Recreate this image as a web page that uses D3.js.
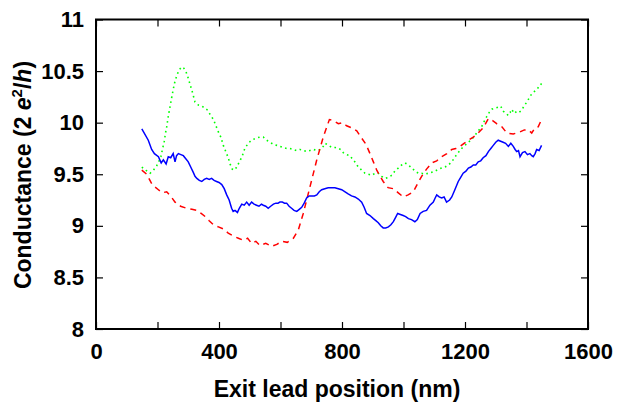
<!DOCTYPE html>
<html>
<head>
<meta charset="utf-8">
<script src="https://cdnjs.cloudflare.com/ajax/libs/d3/7.8.5/d3.min.js"></script>
<style>
    body { margin: 0; background: #fff; }
    svg { display: block; font-family: "Liberation Sans", Arial, Helvetica, sans-serif; font-weight: bold; }
</style>
</head>
<body>
<svg id="chart" width="619" height="405"></svg>
<script>
// exit lead position (nm) and conductance (2e^2/h)
var blueX = [149, 170, 181, 190, 203, 212, 219, 228, 235, 243, 251, 257, 262, 268, 276, 284, 292, 300, 308, 316, 322, 328, 336, 344, 352, 360, 368, 376, 384, 392, 400, 409, 417, 425, 433, 441, 446, 452, 460, 466, 474, 482, 490, 498, 506, 514, 522, 530, 538, 544, 552, 560, 568, 577, 585, 592, 598, 606, 613, 620, 628, 636, 644, 653, 661, 669, 677, 685, 693, 702, 710, 718, 726, 734, 744, 755, 766, 777, 788, 799, 810, 820, 831, 842, 853, 864, 872, 880, 891, 902, 910, 918, 926, 934, 942, 951, 959, 967, 974, 981, 990, 999, 1007, 1016, 1026, 1037, 1045, 1054, 1064, 1075, 1086, 1097, 1103, 1108, 1116, 1124, 1132, 1140, 1150, 1157, 1167, 1178, 1186, 1194, 1203, 1211, 1219, 1227, 1235, 1243, 1251, 1259, 1268, 1276, 1284, 1292, 1300, 1308, 1316, 1324, 1332, 1341, 1349, 1357, 1363, 1368, 1374, 1379, 1387, 1395, 1403, 1411, 1417, 1422, 1428, 1433, 1441, 1449];
var blueY = [9.94, 9.83, 9.74, 9.70, 9.67, 9.61, 9.64, 9.60, 9.67, 9.66, 9.70, 9.62, 9.68, 9.70, 9.69, 9.68, 9.65, 9.62, 9.57, 9.52, 9.48, 9.46, 9.44, 9.43, 9.45, 9.46, 9.45, 9.46, 9.44, 9.43, 9.42, 9.40, 9.36, 9.30, 9.25, 9.17, 9.14, 9.15, 9.13, 9.17, 9.21, 9.20, 9.23, 9.20, 9.23, 9.21, 9.20, 9.19, 9.21, 9.20, 9.19, 9.17, 9.19, 9.21, 9.22, 9.22, 9.23, 9.23, 9.22, 9.22, 9.19, 9.17, 9.15, 9.14, 9.16, 9.18, 9.22, 9.27, 9.29, 9.29, 9.29, 9.30, 9.33, 9.35, 9.36, 9.37, 9.37, 9.37, 9.36, 9.35, 9.33, 9.31, 9.29, 9.28, 9.26, 9.23, 9.18, 9.12, 9.10, 9.07, 9.05, 9.03, 9.00, 8.98, 8.98, 8.99, 9.01, 9.04, 9.08, 9.12, 9.11, 9.10, 9.09, 9.07, 9.06, 9.04, 9.06, 9.12, 9.14, 9.15, 9.20, 9.23, 9.27, 9.30, 9.28, 9.27, 9.28, 9.23, 9.25, 9.28, 9.35, 9.43, 9.47, 9.51, 9.53, 9.56, 9.57, 9.59, 9.59, 9.62, 9.63, 9.66, 9.68, 9.72, 9.75, 9.78, 9.81, 9.83, 9.82, 9.81, 9.80, 9.77, 9.80, 9.77, 9.74, 9.72, 9.73, 9.67, 9.71, 9.72, 9.69, 9.70, 9.68, 9.67, 9.70, 9.74, 9.73, 9.78];

var redX = [149, 165, 181, 190, 203, 215, 230, 245, 257, 275, 295, 312, 328, 342, 355, 368, 382, 398, 414, 430, 447, 463, 479, 493, 506, 520, 533, 552, 571, 588, 604, 622, 642, 658, 674, 696, 718, 739, 759, 773, 788, 801, 815, 831, 848, 864, 878, 891, 902, 913, 924, 934, 950, 967, 983, 999, 1015, 1032, 1046, 1059, 1075, 1092, 1108, 1124, 1141, 1157, 1170, 1184, 1197, 1211, 1227, 1243, 1259, 1276, 1290, 1303, 1320, 1336, 1357, 1379, 1393, 1406, 1417, 1428, 1438, 1449];
var redY = [9.54, 9.50, 9.41, 9.38, 9.35, 9.32, 9.33, 9.28, 9.23, 9.19, 9.17, 9.16, 9.15, 9.12, 9.09, 9.05, 9.01, 8.99, 8.97, 8.93, 8.90, 8.88, 8.86, 8.88, 8.83, 8.85, 8.81, 8.83, 8.80, 8.82, 8.85, 8.84, 8.88, 8.96, 9.12, 9.38, 9.64, 9.86, 10.03, 10.02, 9.99, 10.00, 9.97, 9.95, 9.92, 9.85, 9.79, 9.70, 9.62, 9.54, 9.48, 9.43, 9.37, 9.36, 9.32, 9.28, 9.30, 9.33, 9.41, 9.48, 9.55, 9.61, 9.63, 9.67, 9.70, 9.74, 9.75, 9.77, 9.80, 9.83, 9.86, 9.90, 9.95, 10.04, 10.02, 9.99, 9.96, 9.90, 9.89, 9.91, 9.93, 9.93, 9.90, 9.95, 9.96, 10.03];

var greenX = [149, 162, 176, 187, 197, 205, 211, 216, 222, 226, 230, 235, 241, 246, 251, 256, 262, 270, 279, 285, 292, 299, 306, 314, 322, 333, 344, 355, 363, 371, 382, 390, 398, 406, 414, 422, 430, 436, 443, 450, 458, 466, 475, 484, 495, 506, 520, 533, 544, 555, 566, 577, 588, 598, 609, 620, 631, 642, 652, 663, 674, 685, 696, 707, 718, 728, 737, 745, 756, 767, 778, 788, 796, 804, 815, 826, 831, 842, 853, 864, 875, 886, 897, 908, 918, 929, 940, 951, 962, 972, 983, 994, 1005, 1016, 1027, 1038, 1048, 1059, 1070, 1081, 1092, 1103, 1113, 1124, 1135, 1146, 1157, 1168, 1178, 1189, 1200, 1211, 1222, 1233, 1243, 1254, 1262, 1271, 1279, 1287, 1298, 1308, 1316, 1325, 1333, 1341, 1347, 1352, 1360, 1368, 1376, 1384, 1392, 1401, 1409, 1417, 1425, 1433, 1441, 1449];
var greenY = [9.57, 9.54, 9.51, 9.54, 9.58, 9.63, 9.67, 9.74, 9.82, 9.90, 9.96, 10.06, 10.16, 10.24, 10.32, 10.39, 10.45, 10.51, 10.54, 10.53, 10.50, 10.44, 10.37, 10.29, 10.20, 10.17, 10.16, 10.14, 10.12, 10.08, 10.03, 9.97, 9.91, 9.86, 9.78, 9.72, 9.66, 9.60, 9.55, 9.54, 9.57, 9.62, 9.67, 9.75, 9.80, 9.83, 9.85, 9.86, 9.86, 9.83, 9.81, 9.79, 9.78, 9.77, 9.76, 9.75, 9.75, 9.74, 9.73, 9.74, 9.73, 9.72, 9.73, 9.74, 9.73, 9.74, 9.76, 9.80, 9.78, 9.76, 9.76, 9.75, 9.74, 9.71, 9.69, 9.68, 9.66, 9.62, 9.57, 9.54, 9.51, 9.50, 9.49, 9.51, 9.51, 9.48, 9.46, 9.47, 9.49, 9.53, 9.56, 9.59, 9.61, 9.59, 9.56, 9.53, 9.51, 9.51, 9.50, 9.51, 9.52, 9.53, 9.55, 9.56, 9.57, 9.59, 9.62, 9.67, 9.71, 9.75, 9.78, 9.81, 9.84, 9.88, 9.92, 9.96, 10.01, 10.06, 10.10, 10.13, 10.14, 10.15, 10.16, 10.11, 10.09, 10.07, 10.10, 10.13, 10.09, 10.11, 10.10, 10.12, 10.16, 10.20, 10.24, 10.28, 10.30, 10.32, 10.35, 10.38];

var xTicks = [0, 200, 400, 600, 800, 1000, 1200, 1400, 1600];
var xLabels = [0, 400, 800, 1200, 1600];
var yTicks = [8, 8.5, 9, 9.5, 10, 10.5, 11];

var margin = { top: 19.5, right: 31, bottom: 76, left: 96 };
var svg = d3.select("#chart"),
    width = 619 - margin.left - margin.right,
    height = 405 - margin.top - margin.bottom;

var x = d3.scaleLinear().domain([0, 1600]).range([0, width]);
var y = d3.scaleLinear().domain([8, 11]).range([height, 0]);

var g = svg.append("g")
    .attr("transform", "translate(" + margin.left + "," + margin.top + ")");

// ticks on all four sides, pointing inward
g.append("g").attr("class", "ax")
    .attr("transform", "translate(0," + height + ")")
    .call(d3.axisBottom(x).tickValues(xTicks).tickSizeInner(-7).tickSizeOuter(0)
        .tickPadding(14).tickFormat(function (d) { return xLabels.indexOf(d) >= 0 ? d : ""; }));
g.append("g").attr("class", "ax")
    .call(d3.axisTop(x).tickValues(xTicks).tickSizeInner(-7).tickSizeOuter(0).tickFormat(""));
g.append("g").attr("class", "ax")
    .call(d3.axisLeft(y).tickValues(yTicks).tickSizeInner(-7).tickSizeOuter(0)
        .tickPadding(12).tickFormat(function (d) { return d; }));
g.append("g").attr("class", "ax")
    .attr("transform", "translate(" + width + ",0)")
    .call(d3.axisRight(y).tickValues(yTicks).tickSizeInner(-7).tickSizeOuter(0).tickFormat(""));

g.selectAll(".ax .domain").remove();
g.selectAll(".ax line").attr("stroke", "#000").attr("stroke-width", 1.2);
g.selectAll(".ax text")
    .style("font-family", "Liberation Sans, Arial, sans-serif")
    .style("font-weight", "bold")
    .style("font-size", "22px")
    .attr("fill", "#000");

g.append("rect")
    .attr("width", width)
    .attr("height", height)
    .attr("fill", "none")
    .attr("stroke", "#000")
    .attr("stroke-width", 2);

// curves
var line = d3.line()
    .x(function (d) { return x(d[0]); })
    .y(function (d) { return y(d[1]); });

function series(xs, ys) {
    return xs.map(function (v, i) { return [v, ys[i]]; });
}

g.append("path")
    .datum(series(greenX, greenY))
    .attr("d", line)
    .style("fill", "none")
    .style("stroke", "#00ff00")
    .style("stroke-width", 1.6)
    .style("stroke-dasharray", "1.6,3.4");

g.append("path")
    .datum(series(redX, redY))
    .attr("d", line)
    .style("fill", "none")
    .style("stroke", "#ff0000")
    .style("stroke-width", 1.5)
    .style("stroke-dasharray", "6,5");

g.append("path")
    .datum(series(blueX, blueY))
    .attr("d", line)
    .style("fill", "none")
    .style("stroke", "#0000ff")
    .style("stroke-width", 1.5);

// axis titles
svg.append("text")
    .attr("x", 337)
    .attr("y", 397)
    .attr("text-anchor", "middle")
    .style("font-size", "23px")
    .text("Exit lead position (nm)");

var yt = svg.append("text")
    .attr("text-anchor", "middle")
    .attr("transform", "translate(31,175)rotate(-90)")
    .style("font-size", "23px");
yt.append("tspan").text("Conductance (2 ");
yt.append("tspan").style("font-style", "italic").text("e");
yt.append("tspan").attr("dy", -9).style("font-size", "15px").text("2");
yt.append("tspan").attr("dy", 9).text("/");
yt.append("tspan").style("font-style", "italic").text("h");
yt.append("tspan").text(")");
</script>
</body>
</html>
